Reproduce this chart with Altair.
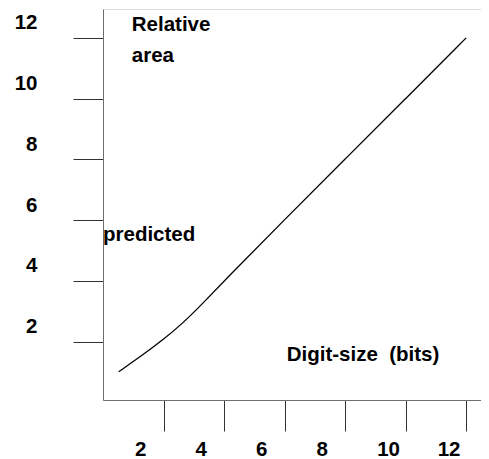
import altair as alt
import pandas as pd

# Curve values
digit_bits = [0.52, 1.31, 1.97, 2.63, 3.3, 4.07, 6.0, 8.0, 10.0, 12.0]
rel_area = [1.01, 1.56, 2.05, 2.6, 3.26, 4.07, 6.02, 8.01, 10.0, 12.0]

tick_vals = [2, 4, 6, 8, 10, 12]

# Annotation texts with their anchor points in data units
ann_text = ["Relative", "area", "predicted", "Digit-size\u00a0\u00a0(bits)"]
ann_x = [0.95, 0.95, 0.0, 6.07]
ann_y = [12.21, 11.21, 5.31, 1.35]

line_df = pd.DataFrame({"x": digit_bits, "y": rel_area})
ann_df = pd.DataFrame({"t": ann_text, "x": ann_x, "y": ann_y})

FONT = "Liberation Sans"
FS = 20.5

xscale = alt.Scale(domain=[0, 12.49], nice=False, zero=False)
yscale = alt.Scale(domain=[0.08, 12.95], nice=False, zero=False)

xaxis = alt.Axis(values=tick_vals, title=None, grid=False, tickSize=31,
                 labelAlign="left", labelOffset=-29, labelPadding=8,
                 labelFont=FONT, labelFontSize=FS, labelFontWeight="bold",
                 labelColor="black", domainColor="#6e6e6e", tickColor="#333333",
                 labelFlush=False, labelOverlap=False)
yaxis = alt.Axis(values=tick_vals, title=None, grid=False, tickSize=30,
                 labelAlign="right", labelOffset=-15, labelPadding=36,
                 labelFont=FONT, labelFontSize=FS, labelFontWeight="bold",
                 labelColor="black", domainColor="#6e6e6e", tickColor="#333333",
                 labelFlush=False, labelOverlap=False)

line = alt.Chart(line_df).mark_line(color="black", strokeWidth=1.3,
                                    interpolate="basis").encode(
    x=alt.X("x:Q", scale=xscale, axis=xaxis),
    y=alt.Y("y:Q", scale=yscale, axis=yaxis),
)

text = alt.Chart(ann_df).mark_text(align="left", baseline="alphabetic",
                                   font=FONT, fontSize=FS, fontWeight="bold",
                                   color="black").encode(
    x=alt.X("x:Q", scale=xscale),
    y=alt.Y("y:Q", scale=yscale),
    text="t:N",
)

chart = alt.layer(line, text).properties(
    width=378, height=391,
    autosize=alt.AutoSizeParams(type="none"),
    padding={"left": 95, "top": 1, "right": 0, "bottom": 58},
).configure_view(stroke=None).configure(background="white")

chart.save("out.html", embed_options={"renderer": "svg", "actions": False})
